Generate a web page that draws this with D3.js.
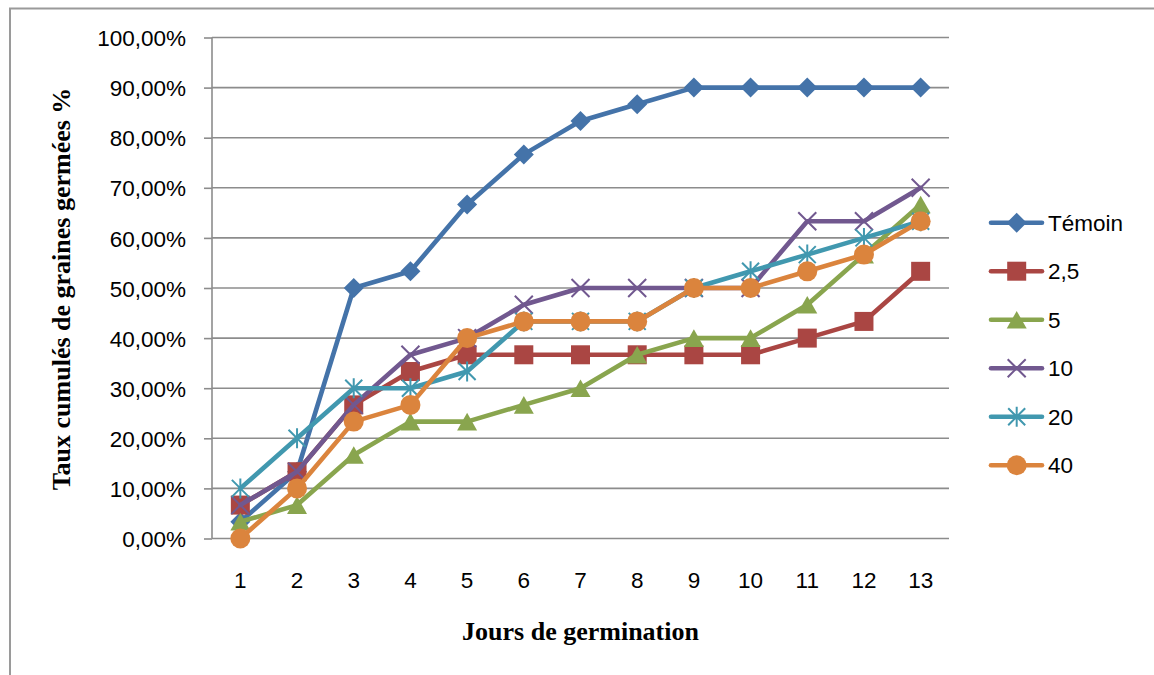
<!DOCTYPE html>
<html>
<head>
<meta charset="utf-8">
<script src="https://cdn.jsdelivr.net/npm/d3@7"></script>
<style>
  html, body { margin: 0; padding: 0; background: #fff; }
  svg { display: block; }
</style>
</head>
<body>
<svg id="chart" width="1154" height="675"></svg>
<script>
// Days of germination (x categories)
const days = ["1","2","3","4","5","6","7","8","9","10","11","12","13"];

// Cumulative germination rate per treatment (fractions)
const temoin = [0.0333,0.1333,0.5000,0.5333,0.6667,0.7667,0.8333,0.8667,0.9000,0.9000,0.9000,0.9000,0.9000];
const c2_5   = [0.0667,0.1333,0.2667,0.3333,0.3667,0.3667,0.3667,0.3667,0.3667,0.3667,0.4000,0.4333,0.5333];
const c5     = [0.0333,0.0667,0.1667,0.2333,0.2333,0.2667,0.3000,0.3667,0.4000,0.4000,0.4667,0.5667,0.6667];
const c10    = [0.0667,0.1333,0.2667,0.3667,0.4000,0.4667,0.5000,0.5000,0.5000,0.5000,0.6333,0.6333,0.7000];
const c20    = [0.1000,0.2000,0.3000,0.3000,0.3333,0.4333,0.4333,0.4333,0.5000,0.5333,0.5667,0.6000,0.6333];
const c40    = [0.0000,0.1000,0.2333,0.2667,0.4000,0.4333,0.4333,0.4333,0.5000,0.5000,0.5333,0.5667,0.6333];

const seriesNames = ["Témoin","2,5","5","10","20","40"];
const yTicks = [0,0.1,0.2,0.3,0.4,0.5,0.6,0.7,0.8,0.9,1.0];

const series = [
  { name: seriesNames[0], values: temoin, color: "#4473a9", marker: "diamond" },
  { name: seriesNames[1], values: c2_5,   color: "#aa4643", marker: "square" },
  { name: seriesNames[2], values: c5,     color: "#89a54e", marker: "triangle" },
  { name: seriesNames[3], values: c10,    color: "#71588f", marker: "cross" },
  { name: seriesNames[4], values: c20,    color: "#4198af", marker: "star" },
  { name: seriesNames[5], values: c40,    color: "#db843d", marker: "circle" }
];

const svg = d3.select("#chart");
const sansFont = "'Liberation Sans', Arial, sans-serif";
const serifFont = "'Liberation Serif', 'Times New Roman', serif";

// Outer chart frame
svg.append("rect")
  .attr("x", 10).attr("y", 8.5)
  .attr("width", 1160).attr("height", 690)
  .attr("fill", "none").attr("stroke", "#9a9a9a").attr("stroke-width", 2);

const plot = { left: 212, right: 949, top: 37.5, bottom: 538.5 };

const x = d3.scaleBand().domain(days).range([plot.left, plot.right]).padding(0);
const y = d3.scaleLinear().domain([0, 1]).range([plot.bottom, plot.top]);
const cx = d => x(d) + x.bandwidth() / 2;

const fmtPct = v => d3.format(".2f")(v * 100).replace(".", ",") + "%";

// Horizontal gridlines + y axis labels
const yAxis = d3.axisLeft(y).tickValues(yTicks).tickSize(8).tickPadding(18).tickFormat(fmtPct);
const gy = svg.append("g").attr("transform", `translate(${plot.left},0)`).call(yAxis);
gy.select(".domain").attr("stroke", "#8c8c8c").attr("stroke-width", 1.6)
  .attr("d", `M0,${plot.top}V${plot.bottom}`);
gy.selectAll(".tick line").attr("stroke", "#8c8c8c").attr("stroke-width", 1.6);
gy.selectAll(".tick text")
  .attr("font-family", sansFont).attr("font-size", 22.5).attr("fill", "#000")
  .attr("dy", "0.36em");

svg.append("g").selectAll("line.grid")
  .data(yTicks).join("line")
  .attr("x1", plot.left).attr("x2", plot.right)
  .attr("y1", d => y(d)).attr("y2", d => y(d))
  .attr("stroke", "#8c8c8c").attr("stroke-width", 1.6);

// X axis labels (no tick marks)
const xAxis = d3.axisBottom(x).tickSize(0).tickPadding(34);
const gx = svg.append("g").attr("transform", `translate(0,${plot.bottom})`).call(xAxis);
gx.select(".domain").remove();
gx.selectAll(".tick text")
  .attr("font-family", sansFont).attr("font-size", 22.5).attr("fill", "#000");

// Axis titles
svg.append("text")
  .attr("x", (plot.left + plot.right) / 2 + 0).attr("y", 640)
  .attr("text-anchor", "middle")
  .attr("font-family", serifFont).attr("font-weight", "bold").attr("font-size", 26)
  .text("Jours de germination");

svg.append("text")
  .attr("transform", "translate(70,289) rotate(-90)")
  .attr("text-anchor", "middle")
  .attr("font-family", serifFont).attr("font-weight", "bold").attr("font-size", 26)
  .text("Taux cumulés de graines germées %");

// Marker shapes
function drawMarker(g, type, color) {
  switch (type) {
    case "diamond":
      g.append("path").attr("d", "M0,-10L10,0L0,10L-10,0Z").attr("fill", color);
      break;
    case "square":
      g.append("rect").attr("x", -9.5).attr("y", -9.5).attr("width", 19).attr("height", 19).attr("fill", color);
      break;
    case "triangle":
      g.append("path").attr("d", "M0,-8.8L10,8.8L-10,8.8Z").attr("fill", color);
      break;
    case "cross":
      g.append("path").attr("d", "M-9,-9L9,9M-9,9L9,-9")
        .attr("stroke", color).attr("stroke-width", 2).attr("fill", "none");
      break;
    case "star":
      g.append("path").attr("d", "M-8.5,-8.5L8.5,8.5M-8.5,8.5L8.5,-8.5M0,-10V10")
        .attr("stroke", color).attr("stroke-width", 2).attr("fill", "none");
      break;
    case "circle":
      g.append("circle").attr("r", 10).attr("fill", color);
      break;
  }
}

const line = d3.line().x((d, i) => cx(days[i])).y(d => y(d));

series.forEach(s => {
  const g = svg.append("g");
  g.append("path")
    .attr("d", line(s.values))
    .attr("fill", "none").attr("stroke", s.color)
    .attr("stroke-width", 4.6).attr("stroke-linejoin", "round").attr("stroke-linecap", "round");
  s.values.forEach((v, i) => {
    const m = g.append("g").attr("transform", `translate(${cx(days[i])},${y(v)})`);
    drawMarker(m, s.marker, s.color);
  });
});

// Legend
const legendTop = 222.7, legendStep = 48.5;
series.forEach((s, i) => {
  const ly = legendTop + i * legendStep;
  const g = svg.append("g");
  g.append("line").attr("x1", 991).attr("x2", 1042).attr("y1", ly).attr("y2", ly)
    .attr("stroke", s.color).attr("stroke-width", 4.6).attr("stroke-linecap", "round");
  const m = g.append("g").attr("transform", `translate(1016.7,${ly})`);
  drawMarker(m, s.marker, s.color);
  g.append("text").attr("x", 1048).attr("y", ly).attr("dy", "0.36em")
    .attr("font-family", sansFont).attr("font-size", 22.5).attr("fill", "#000")
    .text(s.name);
});
</script>
</body>
</html>
